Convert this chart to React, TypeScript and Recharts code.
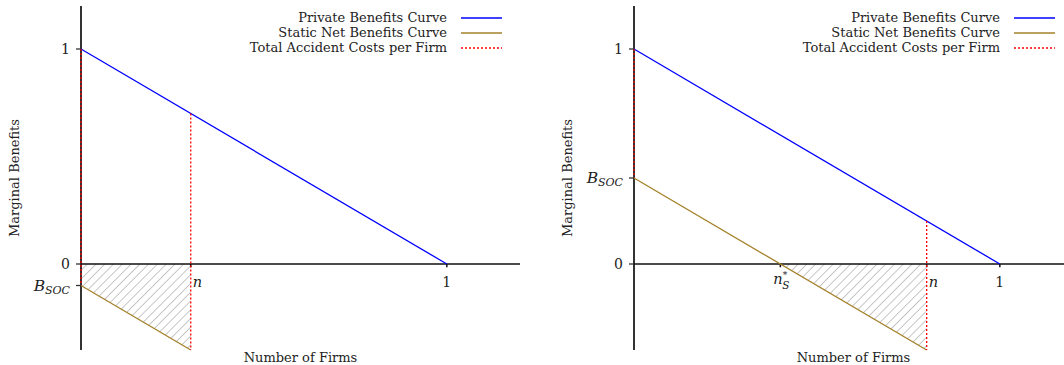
import React from 'react';
import { ComposedChart, Line, Area, XAxis, YAxis, ReferenceLine } from 'recharts';

const FONT = "'DejaVu Serif', 'Liberation Serif', serif";
const FS = 13;
const TEXT = '#222';
const BLUE = '#0000ff';
const BROWN = '#a4812a';
const RED = '#ff0000';

const X_DOMAIN = [0, 1.2];
const Y_DOMAIN = [-0.4, 1.2];

// private benefits curve (same in both panels)
const PRIVATE_X = [0, 1];
const PRIVATE_Y = [1, 0];

// left panel
const LEFT_STATIC_X = [0, 0.3];
const LEFT_STATIC_Y = [-0.1, -0.4];
const LEFT_COST_X = [0, 0.3];
const LEFT_COST_TOP = [1, 0.7];
const LEFT_COST_BOTTOM = [-0.1, -0.4];
const LEFT_HATCH_X = [0, 0.3];
const LEFT_HATCH_Y = [-0.1, -0.4];
const LEFT_Y_TICKS = [-0.1, 0, 1];
const LEFT_Y_LABELS = ['B_SOC', '0', '1'];
const LEFT_X_TICKS = [0.3, 1];
const LEFT_X_LABELS = ['n', '1'];

// right panel
const RIGHT_STATIC_X = [0, 0.8];
const RIGHT_STATIC_Y = [0.4, -0.4];
const RIGHT_COST_X = [0, 0.8];
const RIGHT_COST_TOP = [1, 0.2];
const RIGHT_COST_BOTTOM = [0.4, -0.4];
const RIGHT_HATCH_X = [0.4, 0.8];
const RIGHT_HATCH_Y = [0, -0.4];
const RIGHT_Y_TICKS = [0, 0.4, 1];
const RIGHT_Y_LABELS = ['0', 'B_SOC', '1'];
const RIGHT_X_TICKS = [0.4, 0.8, 1];
const RIGHT_X_LABELS = ['n_S*', 'n', '1'];

const LEGEND_NAMES = ['Private Benefits Curve', 'Static Net Benefits Curve', 'Total Accident Costs per Firm'];
const LEGEND_COLORS = [BLUE, BROWN, RED];
const LEGEND_DASH = [undefined, undefined, '2 2'];

const toPoints = (xs: number[], ys: number[]) => xs.map((x, i) => ({ x, y: ys[i] }));

const YTick = (props: any) => {
  const { x, y, payload, ticks, labels } = props;
  const label = labels[ticks.indexOf(payload.value)];
  if (label === 'B_SOC') {
    return (
      <text x={x} y={y} dy={5} textAnchor="end" fill={TEXT} fontFamily={FONT} fontSize={15.5}>
        <tspan fontStyle="italic">B</tspan>
        <tspan fontStyle="italic" fontSize={11} dy={3}>SOC</tspan>
      </text>
    );
  }
  return (
    <text x={x} y={y} dy={5} textAnchor="end" fill={TEXT} fontFamily={FONT} fontSize={14}>
      {label}
    </text>
  );
};

const XTickLabel = (props: any) => {
  const { viewBox, text } = props;
  const x = viewBox.x;
  const y = viewBox.y;
  if (text === 'n') {
    return (
      <text x={x + 2} y={y + 23} textAnchor="start" fill={TEXT} fontFamily={FONT} fontSize={14.5} fontStyle="italic">n</text>
    );
  }
  if (text === 'n_S*') {
    return (
      <text x={x - 7} y={y + 20} textAnchor="start" fill={TEXT} fontFamily={FONT} fontSize={14.5} fontStyle="italic">
        n
        <tspan fontSize={9} dy={-6} fontStyle="normal">*</tspan>
        <tspan fontSize={10.5} dx={-5} dy={11}>S</tspan>
      </text>
    );
  }
  return (
    <text x={x} y={y + 23} textAnchor="middle" fill={TEXT} fontFamily={FONT} fontSize={14}>{text}</text>
  );
};

const LegendBox = () => (
  <div style={{ position: 'absolute', top: 10, left: 0, width: 502, fontFamily: FONT, fontSize: FS, color: TEXT }}>
    {LEGEND_NAMES.map((name, i) => (
      <div key={name} style={{ display: 'flex', justifyContent: 'flex-end', alignItems: 'center', height: 15, lineHeight: '15px' }}>
        <span style={{ marginRight: 14 }}>{name}</span>
        <svg width={41} height={4}>
          <line x1={0} y1={2} x2={41} y2={2} stroke={LEGEND_COLORS[i]} strokeWidth={1.3} strokeDasharray={LEGEND_DASH[i]} />
        </svg>
      </div>
    ))}
  </div>
);

interface PanelProps {
  id: string;
  staticPts: { x: number; y: number }[];
  costX: number[];
  costTop: number[];
  costBottom: number[];
  hatch: { x: number; y: number }[];
  yTicks: number[];
  yLabels: string[];
  xTicks: number[];
  xLabels: string[];
}

const Panel: React.FC<PanelProps> = ({ id, staticPts, costX, costTop, costBottom, hatch, yTicks, yLabels, xTicks, xLabels }) => (
  <div style={{ position: 'relative', width: 532, height: 365 }}>
    <ComposedChart width={532} height={365} margin={{ top: 6, right: 12, bottom: 0, left: 0 }}>
      <defs>
        <pattern id={`hatch-${id}`} width={6.2} height={6.2} patternUnits="userSpaceOnUse" patternTransform="rotate(45)">
          <line x1={0} y1={0} x2={0} y2={6.2} stroke="#999999" strokeWidth={1.1} />
        </pattern>
      </defs>
      <XAxis
        type="number"
        dataKey="x"
        domain={X_DOMAIN}
        tick={false}
        tickLine={false}
        axisLine={false}
        height={15}
        label={{ value: 'Number of Firms', position: 'insideBottom', offset: 3, fill: TEXT, fontFamily: FONT, fontSize: FS }}
      />
      <YAxis
        type="number"
        domain={Y_DOMAIN}
        ticks={yTicks}
        interval={0}
        width={81}
        axisLine={false}
        tickLine={{ stroke: '#333', strokeWidth: 1.3 }}
        tickSize={5}
        tickMargin={6}
        tick={<YTick ticks={yTicks} labels={yLabels} />}
        label={{ value: 'Marginal Benefits', angle: -90, position: 'insideLeft', offset: 14, style: { textAnchor: 'middle' }, fill: TEXT, fontFamily: FONT, fontSize: FS }}
      />
      <Area
        data={hatch}
        dataKey="y"
        type="linear"
        baseValue={0}
        fill={`url(#hatch-${id})`}
        fillOpacity={1}
        stroke="none"
        isAnimationActive={false}
      />
      <ReferenceLine x={0} stroke="#333" strokeWidth={2} />
      <ReferenceLine y={0} stroke="#111" strokeWidth={1.5} />
      {xTicks.map((t, i) => (
        <ReferenceLine
          key={`xt-${t}`}
          segment={[{ x: t, y: 0 }, { x: t, y: -0.015 }]}
          stroke="#111"
          strokeWidth={1.5}
          label={<XTickLabel text={xLabels[i]} />}
        />
      ))}
      <Line data={toPoints(PRIVATE_X, PRIVATE_Y)} dataKey="y" type="linear" stroke={BLUE} strokeWidth={1.3} dot={false} activeDot={false} isAnimationActive={false} />
      <Line data={staticPts} dataKey="y" type="linear" stroke={BROWN} strokeWidth={1.3} dot={false} activeDot={false} isAnimationActive={false} />
      {costX.map((cx, i) => (
        <Line
          key={`cost-${i}`}
          data={[{ x: cx, y: costTop[i] }, { x: cx, y: costBottom[i] }]}
          dataKey="y"
          type="linear"
          stroke={RED}
          strokeWidth={1.3}
          strokeDasharray="2 2"
          dot={false}
          activeDot={false}
          isAnimationActive={false}
        />
      ))}
    </ComposedChart>
    <LegendBox />
  </div>
);

export default function App() {
  return (
    <div style={{ position: 'absolute', top: 0, left: 0, width: 1064, height: 365, overflow: 'hidden', background: '#fff' }}>
      <div style={{ position: 'absolute', top: 0, left: 0 }}>
        <Panel
          id="left"
          staticPts={toPoints(LEFT_STATIC_X, LEFT_STATIC_Y)}
          costX={LEFT_COST_X}
          costTop={LEFT_COST_TOP}
          costBottom={LEFT_COST_BOTTOM}
          hatch={toPoints(LEFT_HATCH_X, LEFT_HATCH_Y)}
          yTicks={LEFT_Y_TICKS}
          yLabels={LEFT_Y_LABELS}
          xTicks={LEFT_X_TICKS}
          xLabels={LEFT_X_LABELS}
        />
      </div>
      <div style={{ position: 'absolute', top: 0, left: 553 }}>
        <Panel
          id="right"
          staticPts={toPoints(RIGHT_STATIC_X, RIGHT_STATIC_Y)}
          costX={RIGHT_COST_X}
          costTop={RIGHT_COST_TOP}
          costBottom={RIGHT_COST_BOTTOM}
          hatch={toPoints(RIGHT_HATCH_X, RIGHT_HATCH_Y)}
          yTicks={RIGHT_Y_TICKS}
          yLabels={RIGHT_Y_LABELS}
          xTicks={RIGHT_X_TICKS}
          xLabels={RIGHT_X_LABELS}
        />
      </div>
    </div>
  );
}
